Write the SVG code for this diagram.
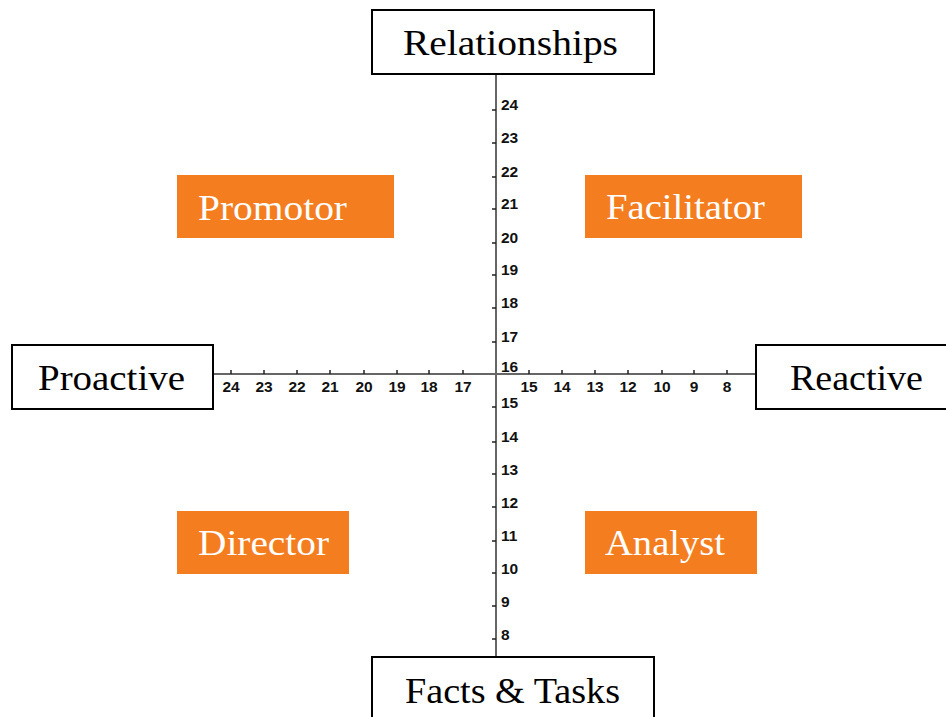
<svg xmlns="http://www.w3.org/2000/svg" width="946" height="717" viewBox="0 0 946 717">
<style>
.box{fill:#fff;stroke:#000;stroke-width:2}
.obox{fill:#F47D20;stroke:none}
.lbl{font-family:"Liberation Serif","Times New Roman",serif;font-size:35px;fill:#000}
.olbl{font-family:"Liberation Serif","Times New Roman",serif;font-size:35px;fill:#fff}
.ax{stroke:#666;stroke-width:2;fill:none}
.tk{stroke:#222;stroke-width:1.5;fill:none}
.num{font-family:"Liberation Sans",Arial,sans-serif;font-size:15.5px;font-weight:bold;fill:#111}
.hn{text-anchor:middle}
</style>
<rect width="946" height="717" fill="#fff"/>
<g id="connectors">
<line class="ax" x1="496" y1="74" x2="496" y2="657"/>
<line class="ax" x1="213" y1="374" x2="756" y2="374"/>
<path class="tk" d="M492,110H496M492,143H496M492,177H496M492,209H496M492,243H496M492,275H496M492,308H496M492,342H496M492,407H496M492,442H496M492,474H496M492,507H496M492,541H496M492,573H496M492,606H496M492,639H496"/>
<path class="tk" d="M231,370V374M264,370V374M297,370V374M330,370V374M364,370V374M397,370V374M429,370V374M463,370V374M529,370V374M562,370V374M595,370V374M628,370V374M662,370V374M694,370V374M727,370V374"/>
<g class="num">
<text x="501" y="110">24</text>
<text x="501" y="143">23</text>
<text x="501" y="177">22</text>
<text x="501" y="209">21</text>
<text x="501" y="243">20</text>
<text x="501" y="275">19</text>
<text x="501" y="308">18</text>
<text x="501" y="342">17</text>
<text x="501" y="372">16</text>
<text x="501" y="408">15</text>
<text x="501" y="442">14</text>
<text x="501" y="475">13</text>
<text x="501" y="508">12</text>
<text x="501" y="541">11</text>
<text x="501" y="574">10</text>
<text x="501" y="607">9</text>
<text x="501" y="640">8</text>
</g>
<g class="num hn">
<text x="231" y="392">24</text>
<text x="264" y="392">23</text>
<text x="297" y="392">22</text>
<text x="330" y="392">21</text>
<text x="364" y="392">20</text>
<text x="397" y="392">19</text>
<text x="429" y="392">18</text>
<text x="463" y="392">17</text>
<text x="529" y="392">15</text>
<text x="562" y="392">14</text>
<text x="595" y="392">13</text>
<text x="628" y="392">12</text>
<text x="662" y="392">10</text>
<text x="694" y="392">9</text>
<text x="727" y="392">8</text>
</g>
</g>
<g id="relationships">
<rect class="box" x="372" y="10" width="282" height="64"/>
<text class="lbl" x="403" y="55" textLength="215" lengthAdjust="spacingAndGlyphs">Relationships</text>
</g>
<g id="facts-tasks">
<rect class="box" x="372" y="657" width="282" height="70"/>
<text class="lbl" x="405" y="703" textLength="215" lengthAdjust="spacingAndGlyphs">Facts &amp; Tasks</text>
</g>
<g id="proactive">
<rect class="box" x="12" y="345" width="201" height="64"/>
<text class="lbl" x="38" y="390" textLength="147" lengthAdjust="spacingAndGlyphs">Proactive</text>
</g>
<g id="reactive">
<rect class="box" x="756" y="345" width="200" height="64"/>
<text class="lbl" x="790" y="390" textLength="133" lengthAdjust="spacingAndGlyphs">Reactive</text>
</g>
<g id="promotor">
<rect class="obox" x="177" y="175" width="217" height="63"/>
<text class="olbl" x="198" y="220" textLength="149" lengthAdjust="spacingAndGlyphs">Promotor</text>
</g>
<g id="facilitator">
<rect class="obox" x="585" y="175" width="217" height="63"/>
<text class="olbl" x="606" y="219" textLength="159" lengthAdjust="spacingAndGlyphs">Facilitator</text>
</g>
<g id="director">
<rect class="obox" x="177" y="511" width="172" height="63"/>
<text class="olbl" x="198" y="555" textLength="131" lengthAdjust="spacingAndGlyphs">Director</text>
</g>
<g id="analyst">
<rect class="obox" x="585" y="511" width="172" height="63"/>
<text class="olbl" x="605" y="555" textLength="120" lengthAdjust="spacingAndGlyphs">Analyst</text>
</g>
</svg>
